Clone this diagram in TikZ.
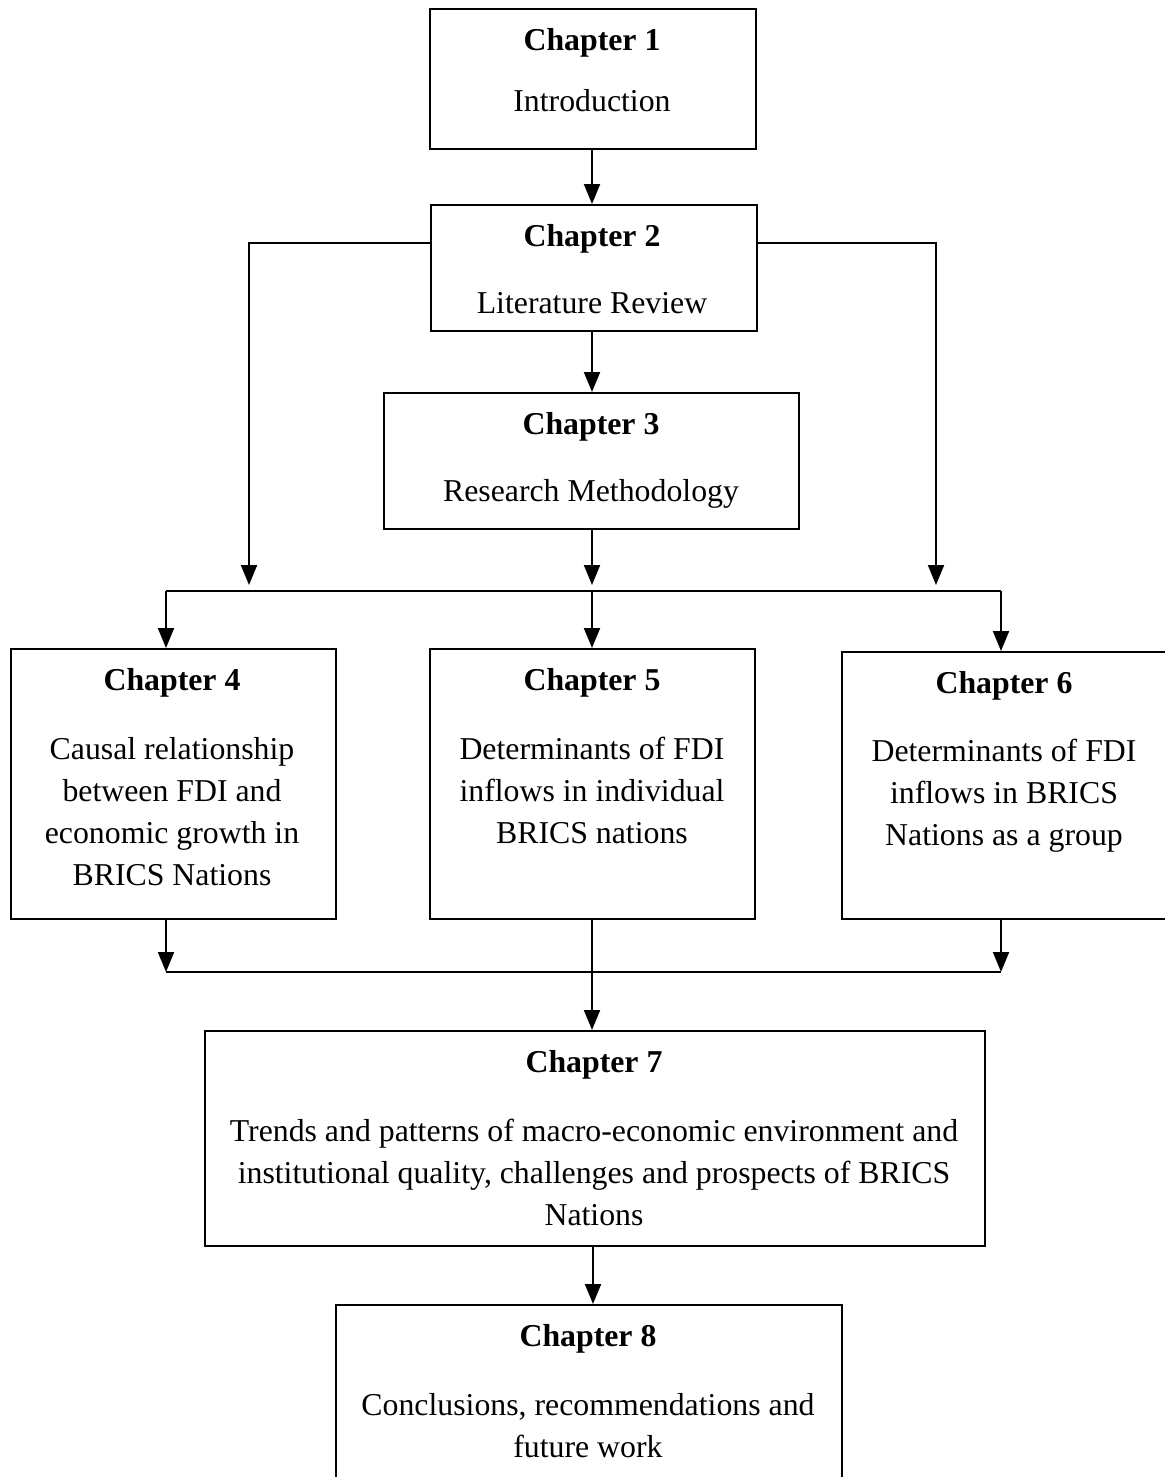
\documentclass[tikz,border=0pt]{standalone}
\usepackage{fontspec}
\setmainfont{Liberation Serif}
\usetikzlibrary{arrows.meta}

\begin{document}
\begin{tikzpicture}[x=0.5pt,y=-0.5pt,
  box/.style={draw, line width=1pt, inner sep=0pt, anchor=north west},
  title/.style={anchor=base, inner sep=0pt, font=\fontsize{15.9}{21}\selectfont\bfseries},
  body/.style={anchor=base, inner sep=0pt, align=center, font=\fontsize{15.9}{21}\selectfont},
  arr/.style={line width=1pt, -{Triangle[length=10pt,width=8pt]}},
  wire/.style={line width=1pt}]
\clip (0,0) rectangle (1165,1477);
\useasboundingbox (0,0) rectangle (1165,1477);

% chapter boxes
\node[box, minimum width=163pt,   minimum height=70pt]    (ch1) at (429,8)    {};
\node[box, minimum width=163pt,   minimum height=63pt]    (ch2) at (430,204)  {};
\node[box, minimum width=207.5pt, minimum height=68pt]    (ch3) at (383,392)  {};
\node[box, minimum width=162.5pt, minimum height=135pt]   (ch4) at (10,648)   {};
\node[box, minimum width=162.5pt, minimum height=135pt]   (ch5) at (429,648)  {};
\node[box, minimum width=163.5pt, minimum height=133.5pt] (ch6) at (841,651)  {};
\node[box, minimum width=390pt,   minimum height=107.5pt] (ch7) at (204,1030) {};
\node[box, minimum width=253pt,   minimum height=98pt]    (ch8) at (335,1304) {};

% texts (multi-line bodies sit on the baseline of their last line)
\node[title] (t1) at (592,51) {Chapter 1};
\node[body]  (b1) at (592,112) {Introduction};
\node[title] (t2) at (592,246) {Chapter 2};
\node[body]  (b2) at (592,313) {Literature Review};
\node[title] (t3) at (591,434) {Chapter 3};
\node[body]  (b3) at (591,501) {Research Methodology};
\node[title] (t4) at (172,690) {Chapter 4};
\node[body]  (b4) at (172,885) {Causal relationship\\between FDI and\\economic growth in\\BRICS Nations};
\node[title] (t5) at (592,690) {Chapter 5};
\node[body]  (b5) at (592,843) {Determinants of FDI\\inflows in individual\\BRICS nations};
\node[title] (t6) at (1004,693) {Chapter 6};
\node[body]  (b6) at (1004,845) {Determinants of FDI\\inflows in BRICS\\Nations as a group};
\node[title] (t7) at (594,1072) {Chapter 7};
\node[body]  (b7) at (594,1225) {Trends and patterns of macro-economic environment and\\institutional quality, challenges and prospects of BRICS\\Nations};
\node[title] (t8) at (588,1346) {Chapter 8};
\node[body]  (b8) at (588,1457) {Conclusions, recommendations and\\future work};

% junction points
\coordinate (l2) at (249,243);
\coordinate (r2) at (936,243);
\coordinate (tl) at (249,585);
\coordinate (tr) at (936,585);
\coordinate (m3) at (592,585);
\coordinate (busL) at (166,591);
\coordinate (busM) at (592,591);
\coordinate (busR) at (1001,591);
\coordinate (lowL) at (166,972);
\coordinate (lowM) at (592,972);
\coordinate (lowR) at (1001,972);
\coordinate (m7) at (593,1245);

% connectors
\draw[arr] (ch1.south -| busM) -- (ch2.north -| busM);
\draw[arr] (ch2.west |- l2) -- (l2) -- (tl);
\draw[arr] (ch2.east |- r2) -- (r2) -- (tr);
\draw[arr] (ch2.south -| busM) -- (ch3.north -| busM);
\draw[arr] (ch3.south -| m3) -- (m3);
\draw[wire] (busL) -- (busR);
\draw[arr] (busL) -- (busL |- ch4.north);
\draw[arr] (busM) -- (busM |- ch5.north);
\draw[arr] (busR) -- (busR |- ch6.north);
\draw[arr] (ch4.south -| lowL) -- (lowL);
\draw[arr] (ch6.south -| lowR) -- (lowR);
\draw[wire] (lowL) -- (lowR);
\draw[arr] (ch5.south -| lowM) -- (ch7.north -| lowM);
\draw[arr] (m7) -- (ch8.north -| m7);
\end{tikzpicture}
\end{document}
